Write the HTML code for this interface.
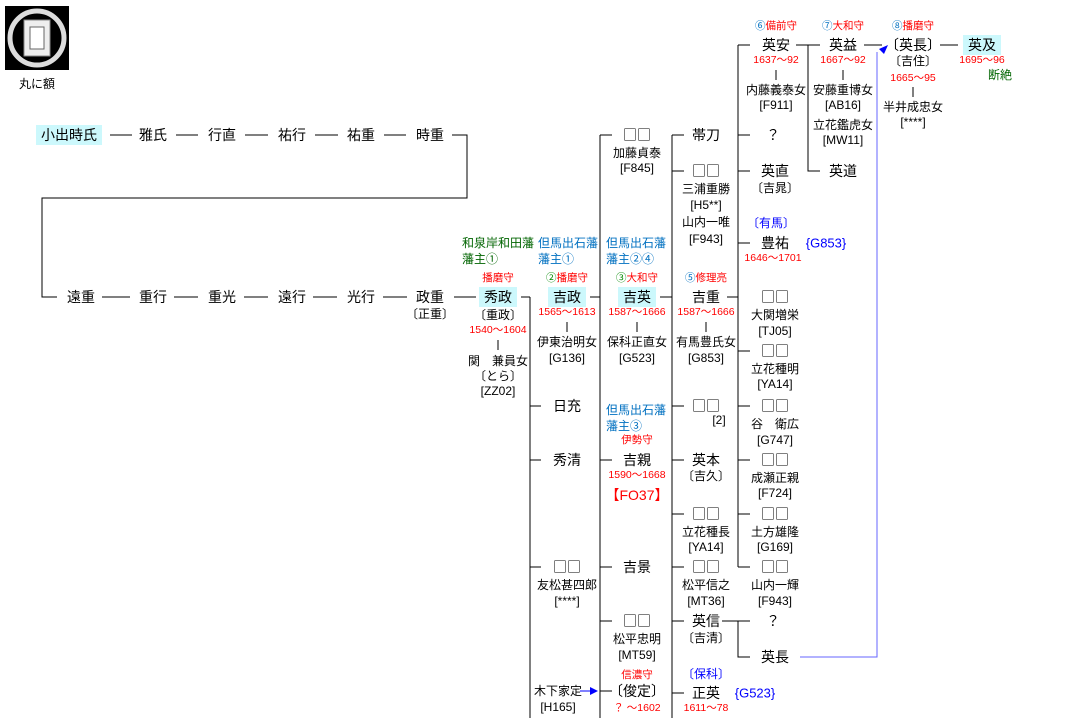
<!DOCTYPE html>
<html><head><meta charset="utf-8"><style>
body{margin:0;width:1067px;height:718px;background:#fff;position:relative;overflow:hidden;font-family:"Liberation Sans","Noto Sans CJK JP",sans-serif;}
div.t{position:absolute;transform:translate(-50%,-50%);white-space:nowrap;line-height:1;color:#000;}
.n{font-size:14px;font-family:"Noto Sans CJK JP",sans-serif;}
.s{font-size:12px;}
.r{font-size:10.5px;color:#f00 !important;}
.b{font-size:12px;color:#0070c0 !important;}
.g{font-size:12px;color:#006400 !important;}
.hl{background:#ccf8fc;padding:3px 5px;}
.l{position:absolute;white-space:nowrap;line-height:1;font-size:12px;}
svg{position:absolute;left:0;top:0;}
</style></head><body>
<svg width="1067" height="718" shape-rendering="crispEdges" stroke="#000" stroke-width="1" fill="none">
<path d="M110 135H132M176 135H198M245 135H268M315 135H338M384 135H406M452 135H467V198H42V297H57"/>
<path d="M102 297H130M174 297H198M244 297H268M313 297H337M383 297H407M454 297H476"/>
<path d="M521 297H530M530 297V718M530 406H541M530 460H541M530 567H541"/>
<path d="M590 297H600M600 135V718M600 135H612M600 460H612M600 567H612M600 621H612M600 691H612"/>
<path d="M660 297H672M672 135V718M672 135H684M672 171H684M672 406H684M672 460H684M672 514H684M672 567H684M672 621H684M672 693H684"/>
<path d="M727 297H738M738 45V567M738 45H750M738 135H750M738 171H750M738 243H750M738 351H750M738 406H750M738 460H750M738 514H750M738 567H750"/>
<path d="M722 621H738V657H750M738 621H750"/>
<path d="M796 45H808V171H820M808 45H820M864 45H882M940 45H958"/>
<path d="M776 70V80M843 70V80M913 87V97M498 340V350M567 322V332M637 322V332M706 322V332"/>
<path d="M800 657H877V52" stroke="#66f"/>
</svg>
<svg width="1067" height="718" style="pointer-events:none">
<polygon points="888,45 879,49 884,54" fill="#00f"/>
<polygon points="598,691 590,687 590,695" fill="#00f"/>
<line x1="580" y1="691" x2="592" y2="691" stroke="#00f"/>
<rect x="5" y="6" width="64" height="64" fill="#000"/>
<circle cx="37" cy="38" r="27" fill="none" stroke="#ddd" stroke-width="5"/>
<rect x="24" y="20" width="26" height="36" fill="#eee" stroke="#888"/>
<rect x="30" y="27" width="14" height="22" fill="#fff" stroke="#666"/>
</svg>
<div class="t s" style="left:37px;top:84px">丸に額</div>

<div class="t n hl" style="left:69px;top:135px">小出時氏</div>
<div class="t n" style="left:153px;top:135px">雅氏</div>
<div class="t n" style="left:222px;top:135px">行直</div>
<div class="t n" style="left:292px;top:135px">祐行</div>
<div class="t n" style="left:361px;top:135px">祐重</div>
<div class="t n" style="left:430px;top:135px">時重</div>

<div class="t n" style="left:81px;top:297px">遠重</div>
<div class="t n" style="left:153px;top:297px">重行</div>
<div class="t n" style="left:222px;top:297px">重光</div>
<div class="t n" style="left:292px;top:297px">遠行</div>
<div class="t n" style="left:361px;top:297px">光行</div>
<div class="t n" style="left:430px;top:297px">政重</div>
<div class="t s" style="left:430px;top:314px">〔正重〕</div>

<div class="l g" style="left:462px;top:237px">和泉岸和田藩</div>
<div class="l g" style="left:462px;top:253px">藩主①</div>
<div class="t r" style="left:498px;top:278px">播磨守</div>
<div class="t n hl" style="left:498px;top:297px">秀政</div>
<div class="t s" style="left:498px;top:315px">〔重政〕</div>
<div class="t r" style="left:498px;top:330px">1540～1604</div>
<div class="t s" style="left:498px;top:361px">関　兼員女</div>
<div class="t s" style="left:498px;top:376px">〔とら〕</div>
<div class="t s" style="left:498px;top:391px">[ZZ02]</div>

<div class="l b" style="left:538px;top:237px">但馬出石藩</div>
<div class="l b" style="left:538px;top:253px">藩主①</div>
<div class="t r" style="left:567px;top:278px"><span style="color:#080">②</span>播磨守</div>
<div class="t n hl" style="left:567px;top:297px">吉政</div>
<div class="t r" style="left:567px;top:312px">1565～1613</div>
<div class="t s" style="left:567px;top:342px">伊東治明女</div>
<div class="t s" style="left:567px;top:358px">[G136]</div>
<div class="t n" style="left:567px;top:406px">日充</div>
<div class="t n" style="left:567px;top:460px">秀清</div>
<div class="t n" style="left:567px;top:567px">□□</div>
<div class="t s" style="left:567px;top:585px">友松甚四郎</div>
<div class="t s" style="left:567px;top:601px">[****]</div>
<div class="t s" style="left:558px;top:691px">木下家定</div>
<div class="t s" style="left:558px;top:707px">[H165]</div>

<div class="l b" style="left:606px;top:237px">但馬出石藩</div>
<div class="l b" style="left:606px;top:253px">藩主②④</div>
<div class="t r" style="left:637px;top:278px"><span style="color:#080">③</span>大和守</div>
<div class="t n hl" style="left:637px;top:297px">吉英</div>
<div class="t r" style="left:637px;top:312px">1587～1666</div>
<div class="t s" style="left:637px;top:342px">保科正直女</div>
<div class="t s" style="left:637px;top:358px">[G523]</div>
<div class="t n" style="left:637px;top:135px">□□</div>
<div class="t s" style="left:637px;top:153px">加藤貞泰</div>
<div class="t s" style="left:637px;top:168px">[F845]</div>
<div class="l b" style="left:606px;top:404px">但馬出石藩</div>
<div class="l b" style="left:606px;top:420px">藩主③</div>
<div class="t r" style="left:637px;top:440px">伊勢守</div>
<div class="t n" style="left:637px;top:460px">吉親</div>
<div class="t r" style="left:637px;top:475px">1590～1668</div>
<div class="t" style="left:637px;top:495px;font-size:14px;color:#f00">【FO37】</div>
<div class="t n" style="left:637px;top:567px">吉景</div>
<div class="t n" style="left:637px;top:621px">□□</div>
<div class="t s" style="left:637px;top:639px">松平忠明</div>
<div class="t s" style="left:637px;top:655px">[MT59]</div>
<div class="t r" style="left:637px;top:675px">信濃守</div>
<div class="t n" style="left:637px;top:691px">〔俊定〕</div>
<div class="t r" style="left:637px;top:708px">？ ～1602</div>

<div class="t n" style="left:706px;top:135px">帯刀</div>
<div class="t n" style="left:706px;top:171px">□□</div>
<div class="t s" style="left:706px;top:189px">三浦重勝</div>
<div class="t s" style="left:706px;top:205px">[H5**]</div>
<div class="t s" style="left:706px;top:222px">山内一唯</div>
<div class="t s" style="left:706px;top:239px">[F943]</div>
<div class="t r" style="left:706px;top:278px"><span style="color:#0070c0">⑤</span>修理亮</div>
<div class="t n" style="left:706px;top:297px">吉重</div>
<div class="t r" style="left:706px;top:312px">1587～1666</div>
<div class="t s" style="left:706px;top:342px">有馬豊氏女</div>
<div class="t s" style="left:706px;top:358px">[G853]</div>
<div class="t n" style="left:706px;top:406px">□□</div>
<div class="t s" style="left:719px;top:420px">[2]</div>
<div class="t n" style="left:706px;top:460px">英本</div>
<div class="t s" style="left:706px;top:476px">〔吉久〕</div>
<div class="t n" style="left:706px;top:514px">□□</div>
<div class="t s" style="left:706px;top:532px">立花種長</div>
<div class="t s" style="left:706px;top:547px">[YA14]</div>
<div class="t n" style="left:706px;top:567px">□□</div>
<div class="t s" style="left:706px;top:585px">松平信之</div>
<div class="t s" style="left:706px;top:601px">[MT36]</div>
<div class="t n" style="left:706px;top:621px">英信</div>
<div class="t s" style="left:706px;top:638px">〔吉清〕</div>
<div class="t" style="left:706px;top:674px;font-size:12px;color:#00f">〔保科〕</div>
<div class="t n" style="left:706px;top:693px">正英</div>
<div class="t" style="left:755px;top:693px;font-size:13px;color:#00f">{G523}</div>
<div class="t r" style="left:706px;top:708px">1611～78</div>

<div class="t r" style="left:776px;top:26px"><span style="color:#0070c0">⑥</span>備前守</div>
<div class="t n" style="left:776px;top:45px">英安</div>
<div class="t r" style="left:776px;top:60px">1637～92</div>
<div class="t s" style="left:776px;top:90px">内藤義泰女</div>
<div class="t s" style="left:776px;top:105px">[F911]</div>
<div class="t n" style="left:773px;top:135px">？</div>
<div class="t n" style="left:775px;top:171px">英直</div>
<div class="t s" style="left:775px;top:188px">〔吉晁〕</div>
<div class="t" style="left:771px;top:223px;font-size:12px;color:#00f">〔有馬〕</div>
<div class="t n" style="left:775px;top:243px">豊祐</div>
<div class="t" style="left:826px;top:243px;font-size:13px;color:#00f">{G853}</div>
<div class="t r" style="left:773px;top:258px">1646～1701</div>
<div class="t n" style="left:775px;top:297px">□□</div>
<div class="t s" style="left:775px;top:315px">大関増栄</div>
<div class="t s" style="left:775px;top:331px">[TJ05]</div>
<div class="t n" style="left:775px;top:351px">□□</div>
<div class="t s" style="left:775px;top:369px">立花種明</div>
<div class="t s" style="left:775px;top:384px">[YA14]</div>
<div class="t n" style="left:775px;top:406px">□□</div>
<div class="t s" style="left:775px;top:424px">谷　衛広</div>
<div class="t s" style="left:775px;top:440px">[G747]</div>
<div class="t n" style="left:775px;top:460px">□□</div>
<div class="t s" style="left:775px;top:478px">成瀬正親</div>
<div class="t s" style="left:775px;top:493px">[F724]</div>
<div class="t n" style="left:775px;top:514px">□□</div>
<div class="t s" style="left:775px;top:532px">土方雄隆</div>
<div class="t s" style="left:775px;top:547px">[G169]</div>
<div class="t n" style="left:775px;top:567px">□□</div>
<div class="t s" style="left:775px;top:585px">山内一輝</div>
<div class="t s" style="left:775px;top:601px">[F943]</div>
<div class="t n" style="left:773px;top:621px">？</div>
<div class="t n" style="left:775px;top:657px">英長</div>

<div class="t r" style="left:843px;top:26px"><span style="color:#0070c0">⑦</span>大和守</div>
<div class="t n" style="left:843px;top:45px">英益</div>
<div class="t r" style="left:843px;top:60px">1667～92</div>
<div class="t s" style="left:843px;top:90px">安藤重博女</div>
<div class="t s" style="left:843px;top:105px">[AB16]</div>
<div class="t s" style="left:843px;top:125px">立花鑑虎女</div>
<div class="t s" style="left:843px;top:140px">[MW11]</div>
<div class="t n" style="left:843px;top:171px">英道</div>

<div class="t r" style="left:913px;top:26px"><span style="color:#0070c0">⑧</span>播磨守</div>
<div class="t n" style="left:913px;top:45px">〔英長〕</div>
<div class="t s" style="left:913px;top:61px">〔吉住〕</div>
<div class="t r" style="left:913px;top:78px">1665～95</div>
<div class="t s" style="left:913px;top:107px">半井成忠女</div>
<div class="t s" style="left:913px;top:122px">[****]</div>

<div class="t n hl" style="left:982px;top:45px">英及</div>
<div class="t r" style="left:982px;top:60px">1695～96</div>
<div class="t g" style="left:1000px;top:75px">断絶</div>
</body></html>
